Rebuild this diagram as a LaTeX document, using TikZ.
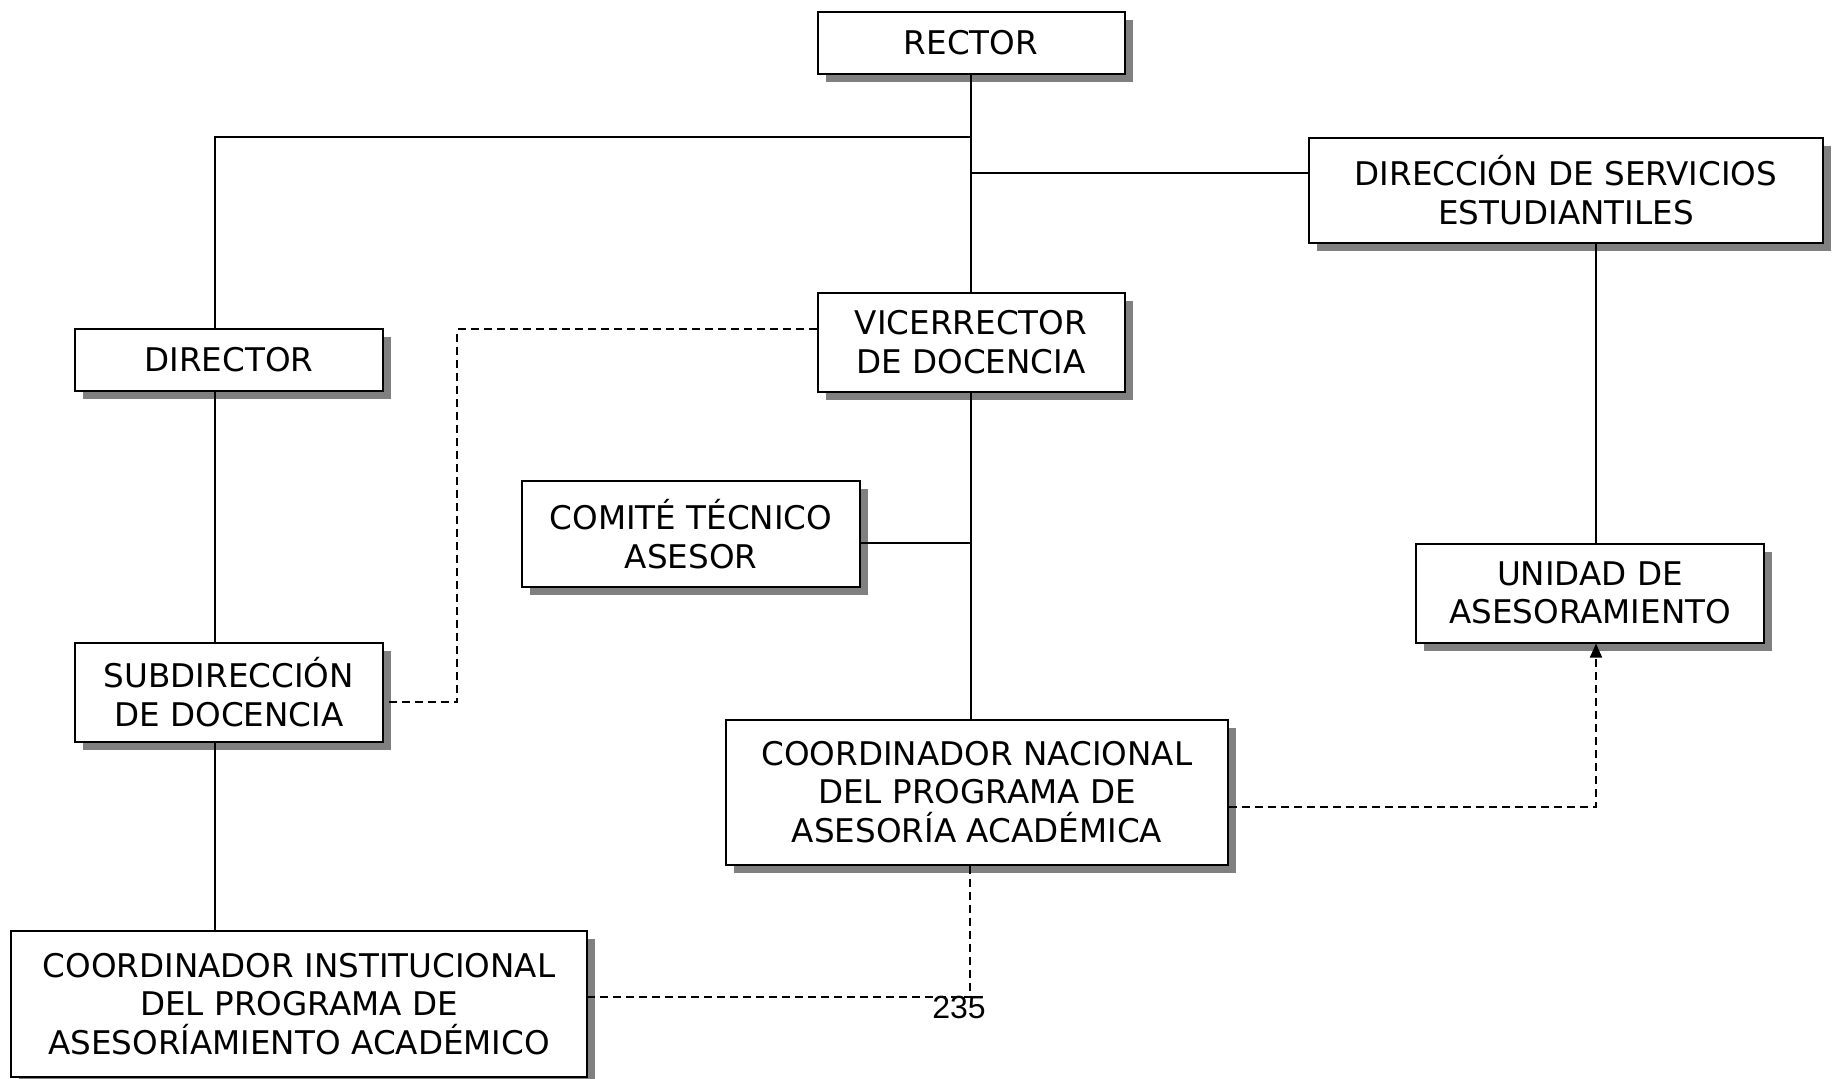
\documentclass[tikz,border=0pt]{standalone}
\usepackage{fontspec}
\setmainfont{DejaVu Sans}
\newfontfamily\pagefont{Liberation Sans}
\usetikzlibrary{shadows,arrows.meta}

\tikzset{
  box/.style={draw=black, line width=1pt, fill=white, inner sep=0pt, align=center,
    font=\fontsize{16.3}{19.3}\selectfont,
    drop shadow={shadow xshift=4pt, shadow yshift=-4pt, fill=gray, opacity=1}},
  link/.style={line width=0.8pt},
  dashlink/.style={line width=0.8pt, dash pattern=on 4pt off 2.5pt}
}

\begin{document}
\begin{tikzpicture}[x=0.5pt,y=-0.5pt]
\useasboundingbox (0,0) rectangle (1832,1078);

% draw nodes
\draw (971,43) node[box, minimum width=153.5pt, minimum height=31pt] (rector) {RECTOR};
\draw (1566,190) node[box, minimum width=257pt, minimum height=52.5pt] (dirserv) {DIRECCIÓN DE SERVICIOS\\ESTUDIANTILES};
\draw (971,342) node[box, minimum width=153.5pt, minimum height=49.5pt] (vice) {VICERRECTOR\\DE DOCENCIA};
\draw (229,360) node[box, minimum width=154pt, minimum height=31pt] (director) {DIRECTOR};
\draw (691,534) node[box, minimum width=169pt, minimum height=53pt] (comite) {COMITÉ TÉCNICO\\ASESOR};
\draw (1590,593) node[box, minimum width=174pt, minimum height=49.5pt] (unidad) {UNIDAD DE\\ASESORAMIENTO};
\draw (229,692) node[box, minimum width=154pt, minimum height=49.5pt] (subdir) {SUBDIRECCIÓN\\DE DOCENCIA};
\draw (977,792) node[box, minimum width=251pt, minimum height=72.5pt] (coordnac) {COORDINADOR NACIONAL\\DEL PROGRAMA DE\\ASESORÍA ACADÉMICA};
\draw (299,1004) node[box, minimum width=288pt, minimum height=73pt] (coordinst) {COORDINADOR INSTITUCIONAL\\DEL PROGRAMA DE\\ASESORÍAMIENTO ACADÉMICO};

% junctions
\coordinate (jl) at (970,137);
\coordinate (jr) at (970,173);
\coordinate (lx) at (215,0);
\coordinate (rx) at (1596,0);
\coordinate (dx) at (457,702);
\coordinate (jb) at (970,997);

% draw solid lines
\draw[link] (rector) -- (vice);
\draw[link] (jl) -| (lx |- director.north);
\draw[link] (jr) -- (jr -| dirserv.west);
\draw[link] (rx |- dirserv.south) -- (rx |- unidad.north);
\draw[link] (lx |- director.south) -- (lx |- subdir.north);
\draw[link] (lx |- subdir.south) -- (lx |- coordinst.north);
\draw[link] (vice) -- (vice |- coordnac.north);
\draw[link] ([yshift=-4.5pt]comite.east) -- ([yshift=-4.5pt]comite.east -| vice.south);

% draw dashed lines
\draw[dashlink] ([yshift=6.5pt]vice.west) -| (dx) -- (dx -| subdir.east);
\draw[dashlink, -{Triangle[width=6pt,length=7pt]}] ([yshift=-7.5pt]coordnac.east) -| (rx |- unidad.south);
\draw[dashlink] (jb |- coordnac.south) -- (jb) -- (jb -| coordinst.east);

% page number
\draw (959,1007) node[font=\pagefont\fontsize{16}{19}\selectfont, inner sep=0pt] (pagenum) {235};

\end{tikzpicture}
\end{document}
